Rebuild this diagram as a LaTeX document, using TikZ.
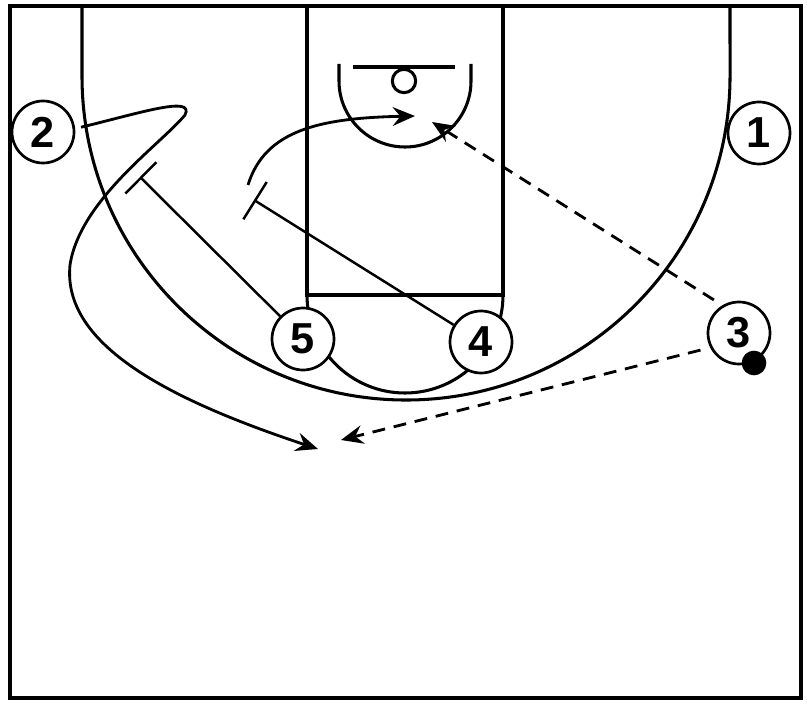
\documentclass[tikz,border=0pt]{standalone}
\usepackage{fontspec}
\setmainfont{Liberation Sans}
\usetikzlibrary{arrows.meta}
\begin{document}
\begin{tikzpicture}[x=0.03cm,y=-0.03cm,
  court/.style={line width=2.6pt},
  player/.style={circle,draw,line width=2.3pt,fill=white,minimum size=1.86cm,inner sep=0pt,font=\fontsize{37}{37}\selectfont\bfseries},
  move/.style={line width=2.4pt,-{Stealth[length=19pt,width=16pt,inset=6.5pt]}},
  pass/.style={move,dash pattern=on 11pt off 7.5pt},
  screen/.style={line width=2.1pt,-{Bar[width=1.32cm]}}]
\useasboundingbox (0,0) rectangle (808,704);
% court
\draw[court,line width=3.2pt] (10,6) rectangle (801,698);
\draw[court] (82,6) -- (82,76) arc[start angle=180,end angle=360,radius=9.72cm] -- (730,6);
\draw[court] (307,6) -- (307,295) -- (503,295) -- (503,6);
\draw[court] (307,295) arc[start angle=180,end angle=360,radius=2.94cm];
\draw[court] (339,64) -- (339,81) arc[start angle=180,end angle=360,radius=1.98cm] -- (471,64);
\draw[court] (353,67) -- (455,67);
\draw[court] (404,81) circle[radius=0.35cm];
% players
\node[player] (p1) at (759,133) {1};
\node[player] (p2) at (43,132) {2};
\node[player] (p3) at (739,333) {3};
\node[player] (p4) at (481,342) {4};
\node[player] (p5) at (303,339) {5};
\node[circle,fill,minimum size=0.74cm,inner sep=0pt] (ball) at (754,363) {};
% coordinates
\coordinate (c2end) at (318,449);
\coordinate (c4start) at (248,185);
\coordinate (c4end) at (415,116);
\coordinate (s5) at (140,177);
\coordinate (s4) at (254,200);
\coordinate (d1end) at (432,122);
\coordinate (d2end) at (341,440);
% movements
\draw[move,shorten <=0.18cm] (p2.6) .. controls (140,113) and (195,95) .. (185,115)
   .. controls (160,145) and (80,200) .. (70,265)
   .. controls (62,345) and (170,400) .. (c2end);
\draw[move] (c4start) .. controls (265,130) and (320,118) .. (c4end);
\draw[screen] (p5) -- (s5);
\draw[screen] (p4) -- (s4);
\draw[pass,shorten <=0.3cm] (p3.121) -- (d1end);
\draw[pass,shorten <=0.3cm] (p3.207) -- (d2end);
\end{tikzpicture}
\end{document}
